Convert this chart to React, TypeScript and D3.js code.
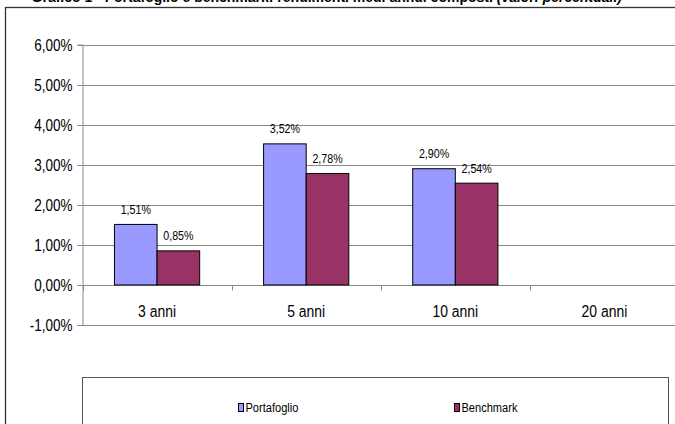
import { useEffect, useRef } from 'react';
import * as d3 from 'd3';

const categories = ['3 anni', '5 anni', '10 anni', '20 anni'];
const seriesNames = ['Portafoglio', 'Benchmark'];
const portafoglio = [1.51, 3.52, 2.9, null];
const benchmark = [0.85, 2.78, 2.54, null];
const yTicks = [-1, 0, 1, 2, 3, 4, 5, 6];

const colors = ['#9999FF', '#993366'];
const font = '"Liberation Sans", Arial, sans-serif';
const narrow = 0.82; // no Arial Narrow installed, squeeze Liberation Sans instead

const fmt = (v: number) => v.toFixed(2).replace('.', ',') + '%';

export default function App() {
  const svgRef = useRef<SVGSVGElement>(null);

  useEffect(() => {
    if (!svgRef.current) return;
    const width = 675;
    const svg = d3.select(svgRef.current);
    svg.selectAll('*').remove();

    const narrowText = (
      parent: d3.Selection<any, any, any, any>,
      x: number,
      y: number,
      size: number,
      anchor: string,
      txt: string
    ) =>
      parent
        .append('text')
        .attr('transform', `translate(${x},${y}) scale(${narrow},1)`)
        .attr('text-anchor', anchor)
        .attr('font-family', font)
        .attr('font-size', size)
        .attr('fill', '#000')
        .text(txt);

    // outer chart frame (partly cropped)
    svg
      .append('rect')
      .attr('x', 5.5)
      .attr('y', 7.5)
      .attr('width', 700)
      .attr('height', 450)
      .attr('fill', '#fff')
      .attr('stroke', '#333')
      .attr('stroke-width', 1.3);

    // title, cut at top
    const title = svg
      .append('text')
      .attr('x', 622)
      .attr('y', 1.5)
      .attr('text-anchor', 'end')
      .attr('font-family', font)
      .attr('font-size', 14)
      .attr('font-weight', 'bold')
      .attr('fill', '#000');
    title.append('tspan').text('Grafico 1 - Portafoglio e benchmark: rendimenti medi annui composti ');
    title.append('tspan').attr('font-style', 'italic').text('(valori percentuali)');

    const x0 = 82.5;
    const x1 = 679;
    const y = d3.scaleLinear().domain([-1, 6]).range([325, 44.5]);
    const x = d3.scaleBand().domain(categories).range([x0, x1]);
    const inner = d3
      .scaleBand()
      .domain(seriesNames)
      .range([0, x.bandwidth()])
      .paddingOuter(0.75)
      .paddingInner(0);

    const g = svg.append('g');

    // gridlines
    g.selectAll('.grid')
      .data(yTicks)
      .enter()
      .append('line')
      .attr('x1', x0)
      .attr('x2', width)
      .attr('y1', (d) => Math.round(y(d)) + 0.5)
      .attr('y2', (d) => Math.round(y(d)) + 0.5)
      .attr('stroke', '#888')
      .attr('stroke-width', 1);

    // y axis
    const yAxis = d3
      .axisLeft(y)
      .tickValues(yTicks)
      .tickSize(5)
      .tickPadding(5)
      .tickFormat((d) => fmt(d as number));
    const ya = g.append('g').attr('transform', `translate(${x0},0)`).call(yAxis);
    ya.select('.domain').attr('stroke', '#888');
    ya.selectAll('.tick line').attr('stroke', '#888');
    ya.selectAll('.tick').attr('transform', (d: any) => `translate(0,${Math.round(y(d)) + 0.5})`);
    ya.selectAll('.tick text')
      .attr('x', 0)
      .attr('dy', '0.34em')
      .attr('transform', `translate(-10,0) scale(${narrow},1)`)
      .attr('font-family', font)
      .attr('font-size', 16.5)
      .attr('fill', '#000');

    // category axis at zero
    const zeroY = Math.round(y(0)) + 0.5;
    const sepTicks = categories.map((c) => x(c)!).concat([x1]);
    g.selectAll('.ctick')
      .data(sepTicks)
      .enter()
      .append('line')
      .attr('x1', (d) => Math.round(d) + 0.5)
      .attr('x2', (d) => Math.round(d) + 0.5)
      .attr('y1', zeroY)
      .attr('y2', zeroY + 5)
      .attr('stroke', '#888');

    categories.forEach((c) => {
      narrowText(g, x(c)! + x.bandwidth() / 2, 317, 17, 'middle', c);
    });

    // bars
    const series = [portafoglio, benchmark];
    series.forEach((vals, si) => {
      const data = categories
        .map((c, i) => ({ c, v: vals[i] }))
        .filter((d) => d.v != null) as { c: string; v: number }[];
      g.selectAll(`.bar${si}`)
        .data(data)
        .enter()
        .append('rect')
        .attr('x', (d) => x(d.c)! + inner(seriesNames[si])!)
        .attr('y', (d) => y(d.v))
        .attr('width', inner.bandwidth())
        .attr('height', (d) => y(0) - y(d.v))
        .attr('fill', colors[si])
        .attr('stroke', '#000')
        .attr('stroke-width', 1);
      data.forEach((d) => {
        narrowText(
          g,
          x(d.c)! + inner(seriesNames[si])! + inner.bandwidth() / 2,
          y(d.v) - 10.5,
          13,
          'middle',
          fmt(d.v)
        );
      });
    });

    // legend
    svg
      .append('rect')
      .attr('x', 82.5)
      .attr('y', 377.5)
      .attr('width', 586)
      .attr('height', 80)
      .attr('fill', '#fff')
      .attr('stroke', '#555')
      .attr('stroke-width', 1);
    const legendX = [238.5, 454.5];
    seriesNames.forEach((name, i) => {
      svg
        .append('rect')
        .attr('x', legendX[i])
        .attr('y', 403.5)
        .attr('width', 5)
        .attr('height', 8)
        .attr('fill', colors[i])
        .attr('stroke', '#000')
        .attr('stroke-width', 1);
      narrowText(svg, legendX[i] + 7, 411.5, 13.5, 'start', name);
    });
  }, []);

  return (
    <svg
      ref={svgRef}
      width={675}
      height={424}
      style={{ position: 'fixed', left: 0, top: 0, background: '#fff' }}
    />
  );
}
